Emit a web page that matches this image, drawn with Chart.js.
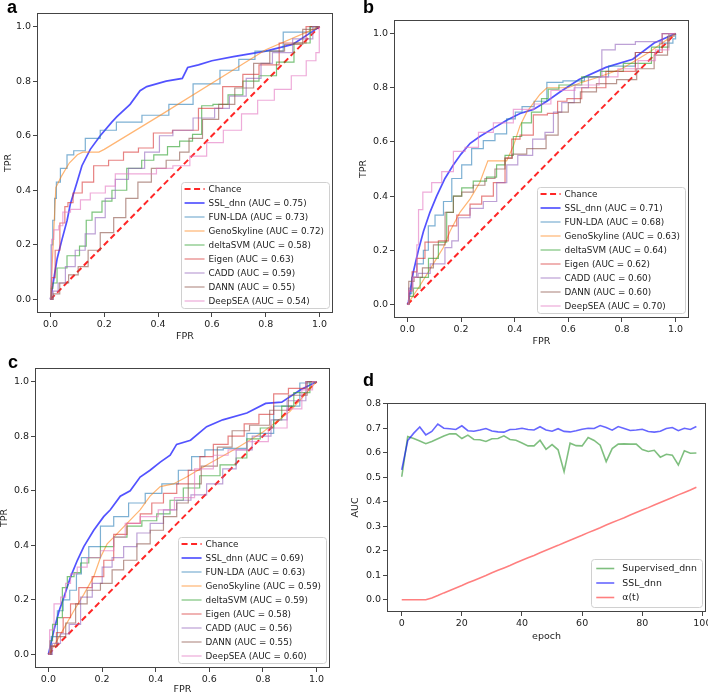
<!DOCTYPE html>
<html><head><meta charset="utf-8">
<script src="https://cdn.jsdelivr.net/npm/chart.js@4.4.1/dist/chart.umd.min.js"></script>
<style>
html,body{margin:0;padding:0;background:#fff;}
body{width:708px;height:695px;position:relative;overflow:hidden;}
canvas{position:absolute;}
</style></head><body>
<canvas id="cA" width="354" height="345" style="left:0px;top:0px"></canvas>
<canvas id="cB" width="354" height="348" style="left:354px;top:0px"></canvas>
<canvas id="cC" width="354" height="350" style="left:0px;top:345px"></canvas>
<canvas id="cD" width="368" height="350" style="left:340px;top:345px"></canvas>
<script>
// ---------- tick labels ----------
const rocTicks = [0, 0.2, 0.4, 0.6, 0.8, 1.0];
const epochTicks = [0, 20, 40, 60, 80, 100];
const aucTicks = [0, 0.1, 0.2, 0.3, 0.4, 0.5, 0.6, 0.7, 0.8];

// ---------- categories ----------
const methods = ['SSL_dnn', 'FUN-LDA', 'GenoSkyline', 'deltaSVM', 'Eigen', 'CADD', 'DANN', 'DeepSEA'];
const aucA = [0.75, 0.73, 0.72, 0.58, 0.63, 0.59, 0.55, 0.54];
const aucB = [0.71, 0.68, 0.63, 0.64, 0.62, 0.60, 0.60, 0.70];
const aucC = [0.69, 0.63, 0.59, 0.59, 0.58, 0.56, 0.55, 0.60];
const chanceLine = [[0, 0], [1, 1]];

// ---------- panel a ROC curves [FPR, TPR] ----------
const a_SSL = [[0,0],[0.01,0.06],[0.025,0.15],[0.043,0.22],[0.062,0.29],[0.074,0.35],[0.099,0.43],[0.117,0.49],[0.148,0.55],[0.185,0.60],[0.228,0.65],[0.247,0.67],[0.296,0.715],[0.333,0.765],[0.358,0.78],[0.43,0.80],[0.49,0.81],[0.51,0.85],[0.55,0.86],[0.6,0.875],[0.68,0.89],[0.8,0.91],[0.9,0.935],[0.97,0.98],[1,1]];
const a_FUN = [[0,0],[0.005,0.2],[0.012,0.29],[0.019,0.37],[0.025,0.43],[0.049,0.48],[0.074,0.53],[0.099,0.545],[0.16,0.59],[0.21,0.62],[0.28,0.65],[0.4,0.675],[0.48,0.715],[0.58,0.79],[0.68,0.84],[0.72,0.88],[0.8,0.91],[0.93,0.98],[1,1]];
const a_Geno = [[0,0],[0.01,0.2],[0.02,0.41],[0.04,0.45],[0.07,0.5],[0.1,0.53],[0.12,0.54],[0.18,0.54],[0.2,0.55],[0.4,0.67],[0.8,0.915],[1,1]];
const a_delta = [[0,0],[0.005,0.04],[0.012,0.06],[0.037,0.115],[0.086,0.16],[0.13,0.195],[0.136,0.29],[0.173,0.32],[0.21,0.36],[0.247,0.40],[0.32,0.48],[0.358,0.51],[0.41,0.53],[0.46,0.56],[0.5,0.58],[0.556,0.605],[0.568,0.71],[0.64,0.715],[0.68,0.75],[0.75,0.8],[0.8,0.82],[0.88,0.87],[0.93,0.94],[1,1]];
const a_Eigen = [[0,0],[0.01,0.08],[0.025,0.18],[0.045,0.28],[0.062,0.34],[0.068,0.355],[0.1,0.39],[0.136,0.43],[0.185,0.49],[0.247,0.51],[0.296,0.54],[0.358,0.555],[0.407,0.61],[0.5,0.62],[0.6,0.7],[0.68,0.78],[0.75,0.825],[0.8,0.86],[0.9,0.94],[1,1]];
const a_CADD = [[0,0],[0.02,0.03],[0.037,0.06],[0.074,0.12],[0.11,0.18],[0.148,0.24],[0.185,0.3],[0.222,0.37],[0.26,0.44],[0.32,0.48],[0.38,0.54],[0.43,0.6],[0.48,0.62],[0.58,0.665],[0.64,0.7],[0.69,0.745],[0.765,0.81],[0.8,0.865],[0.85,0.905],[0.95,0.955],[1,1]];
const a_DANN = [[0,0],[0.02,0.02],[0.049,0.06],[0.086,0.09],[0.12,0.12],[0.16,0.18],[0.21,0.245],[0.26,0.3],[0.3,0.37],[0.35,0.43],[0.4,0.48],[0.46,0.51],[0.5,0.54],[0.53,0.59],[0.6,0.66],[0.65,0.715],[0.72,0.775],[0.79,0.865],[0.84,0.91],[0.9,0.935],[0.975,0.99],[1,1]];
const a_Deep = [[0,0],[0.003,0.05],[0.006,0.22],[0.019,0.255],[0.043,0.27],[0.049,0.32],[0.1,0.33],[0.123,0.365],[0.173,0.39],[0.235,0.415],[0.247,0.46],[0.358,0.46],[0.43,0.48],[0.48,0.49],[0.556,0.525],[0.605,0.575],[0.68,0.62],[0.74,0.68],[0.8,0.73],[0.864,0.77],[0.926,0.82],[0.975,0.875],[0.998,0.905],[1,1]];

// ---------- panel b ROC curves ----------
const b_SSL = [[0,0],[0.004,0.01],[0.022,0.12],[0.041,0.2],[0.06,0.27],[0.084,0.34],[0.109,0.4],[0.14,0.465],[0.171,0.515],[0.2,0.555],[0.234,0.595],[0.27,0.62],[0.32,0.65],[0.37,0.68],[0.42,0.705],[0.47,0.72],[0.52,0.75],[0.57,0.785],[0.64,0.83],[0.74,0.875],[0.84,0.905],[0.92,0.965],[1,1]];
const b_FUN = [[0,0],[0.01,0.04],[0.022,0.1],[0.047,0.15],[0.072,0.2],[0.084,0.29],[0.122,0.33],[0.147,0.38],[0.184,0.465],[0.221,0.515],[0.258,0.575],[0.308,0.605],[0.345,0.63],[0.395,0.685],[0.41,0.71],[0.445,0.73],[0.5,0.75],[0.54,0.82],[0.62,0.825],[0.7,0.84],[0.8,0.88],[0.9,0.93],[0.98,0.965],[1,0.98],[1,1]];
const b_Geno = [[0,0],[0.047,0.07],[0.109,0.17],[0.134,0.21],[0.159,0.27],[0.196,0.34],[0.234,0.39],[0.27,0.45],[0.3,0.53],[0.37,0.53],[0.395,0.585],[0.42,0.66],[0.445,0.71],[0.494,0.775],[0.52,0.8],[0.6,0.8],[0.65,0.82],[0.7,0.835],[0.8,0.87],[0.9,0.93],[1,1]];
const b_delta = [[0,0],[0.01,0.03],[0.035,0.06],[0.06,0.1],[0.097,0.17],[0.134,0.23],[0.159,0.34],[0.184,0.4],[0.221,0.43],[0.27,0.455],[0.32,0.47],[0.345,0.515],[0.383,0.55],[0.407,0.62],[0.445,0.67],[0.48,0.71],[0.52,0.76],[0.53,0.795],[0.6,0.81],[0.7,0.84],[0.74,0.86],[0.87,0.89],[0.95,0.95],[1,1]];
const b_Eigen = [[0,0],[0.01,0.05],[0.025,0.12],[0.047,0.17],[0.084,0.23],[0.147,0.235],[0.159,0.29],[0.209,0.33],[0.258,0.37],[0.296,0.4],[0.345,0.45],[0.383,0.54],[0.395,0.61],[0.445,0.625],[0.494,0.7],[0.55,0.705],[0.57,0.75],[0.62,0.76],[0.68,0.8],[0.8,0.86],[0.9,0.93],[1,1]];
const b_CADD = [[0,0],[0.01,0.06],[0.03,0.1],[0.05,0.115],[0.12,0.15],[0.16,0.21],[0.171,0.235],[0.209,0.32],[0.258,0.355],[0.308,0.38],[0.358,0.45],[0.383,0.515],[0.44,0.55],[0.494,0.61],[0.532,0.635],[0.557,0.71],[0.594,0.745],[0.65,0.8],[0.7,0.84],[0.75,0.94],[0.8,0.96],[0.9,0.97],[1,1]];
const b_DANN = [[0,0],[0.01,0.085],[0.04,0.1],[0.072,0.135],[0.122,0.22],[0.159,0.34],[0.184,0.4],[0.221,0.415],[0.27,0.44],[0.308,0.465],[0.345,0.5],[0.383,0.54],[0.4,0.555],[0.49,0.575],[0.544,0.625],[0.58,0.71],[0.62,0.745],[0.67,0.785],[0.74,0.815],[0.82,0.83],[0.89,0.87],[0.95,0.92],[0.99,0.99],[1,1]];
const b_Deep = [[0,0],[0.01,0.05],[0.03,0.1],[0.04,0.22],[0.043,0.35],[0.072,0.415],[0.109,0.45],[0.147,0.49],[0.196,0.565],[0.234,0.58],[0.296,0.635],[0.345,0.67],[0.445,0.72],[0.5,0.74],[0.57,0.79],[0.68,0.81],[0.75,0.84],[0.82,0.87],[0.9,0.9],[0.95,0.94],[1,1]];

// ---------- panel c ROC curves ----------
const c_SSL = [[0,0],[0.021,0.09],[0.04,0.16],[0.058,0.21],[0.083,0.285],[0.108,0.345],[0.132,0.395],[0.169,0.455],[0.206,0.505],[0.231,0.53],[0.268,0.58],[0.305,0.6],[0.342,0.65],[0.379,0.675],[0.417,0.705],[0.454,0.73],[0.478,0.77],[0.53,0.785],[0.59,0.835],[0.65,0.86],[0.74,0.885],[0.81,0.92],[0.87,0.925],[0.94,0.97],[1,1]];
const c_FUN = [[0,0],[0.021,0.065],[0.046,0.16],[0.064,0.2],[0.095,0.235],[0.114,0.295],[0.132,0.355],[0.169,0.395],[0.219,0.47],[0.268,0.505],[0.33,0.555],[0.392,0.59],[0.454,0.625],[0.515,0.675],[0.553,0.725],[0.614,0.75],[0.69,0.755],[0.79,0.81],[0.89,0.91],[0.985,0.995],[1,1]];
const c_Geno = [[0,0],[0.02,0.03],[0.046,0.075],[0.095,0.16],[0.132,0.22],[0.169,0.285],[0.194,0.355],[0.219,0.405],[0.244,0.43],[0.293,0.48],[0.342,0.53],[0.379,0.58],[0.417,0.615],[0.466,0.625],[0.515,0.65],[0.6,0.7],[0.7,0.755],[0.8,0.815],[0.9,0.89],[1,1]];
const c_delta = [[0,0],[0.01,0.05],[0.021,0.11],[0.046,0.135],[0.058,0.245],[0.083,0.285],[0.108,0.3],[0.132,0.335],[0.169,0.355],[0.219,0.395],[0.268,0.43],[0.318,0.47],[0.379,0.49],[0.429,0.515],[0.478,0.565],[0.528,0.61],[0.6,0.655],[0.68,0.695],[0.72,0.72],[0.76,0.79],[0.82,0.83],[0.86,0.86],[0.88,0.91],[0.95,0.96],[1,1]];
const c_Eigen = [[0,0],[0.02,0.03],[0.04,0.08],[0.07,0.135],[0.095,0.185],[0.132,0.245],[0.194,0.285],[0.219,0.345],[0.268,0.44],[0.318,0.48],[0.367,0.515],[0.404,0.555],[0.454,0.59],[0.503,0.625],[0.54,0.675],[0.59,0.725],[0.64,0.77],[0.7,0.8],[0.76,0.845],[0.81,0.88],[0.87,0.955],[0.92,0.975],[1,1]];
const c_CADD = [[0,0],[0.03,0.04],[0.06,0.075],[0.095,0.11],[0.145,0.21],[0.182,0.26],[0.219,0.32],[0.256,0.355],[0.305,0.395],[0.355,0.445],[0.404,0.48],[0.454,0.53],[0.503,0.565],[0.56,0.585],[0.62,0.625],[0.68,0.68],[0.72,0.75],[0.8,0.8],[0.86,0.86],[0.92,0.93],[1,1]];
const c_DANN = [[0,0],[0.02,0.03],[0.046,0.065],[0.083,0.115],[0.12,0.185],[0.169,0.235],[0.219,0.26],[0.256,0.31],[0.305,0.345],[0.355,0.405],[0.404,0.455],[0.454,0.505],[0.503,0.555],[0.54,0.625],[0.6,0.69],[0.66,0.76],[0.71,0.82],[0.79,0.84],[0.86,0.895],[0.93,0.95],[1,1]];
const c_Deep = [[0,0],[0.009,0.09],[0.033,0.185],[0.058,0.21],[0.07,0.26],[0.095,0.295],[0.12,0.32],[0.169,0.355],[0.219,0.38],[0.268,0.43],[0.305,0.48],[0.379,0.505],[0.44,0.53],[0.5,0.575],[0.59,0.68],[0.64,0.73],[0.7,0.75],[0.78,0.78],[0.86,0.83],[0.92,0.9],[0.97,0.97],[1,1]];

// ---------- panel d training curves ----------
const epochs = [0,2,4,6,8,10,12,14,16,18,20,22,24,26,28,30,32,34,36,38,40,42,44,46,48,50,52,54,56,58,60,62,64,66,68,70,72,74,76,78,80,82,84,86,88,90,92,94,96,98];
const supervisedAUC = [0.502,0.666,0.658,0.648,0.637,0.646,0.657,0.668,0.677,0.677,0.658,0.672,0.654,0.653,0.646,0.657,0.658,0.669,0.654,0.651,0.64,0.628,0.628,0.651,0.614,0.633,0.612,0.523,0.639,0.629,0.628,0.662,0.65,0.631,0.564,0.617,0.635,0.636,0.635,0.635,0.613,0.605,0.61,0.582,0.594,0.59,0.55,0.608,0.598,0.599];
const sslAUC = [0.53,0.65,0.68,0.705,0.673,0.687,0.717,0.70,0.698,0.695,0.71,0.69,0.688,0.693,0.699,0.689,0.685,0.684,0.695,0.696,0.70,0.695,0.693,0.706,0.693,0.688,0.698,0.687,0.685,0.69,0.696,0.70,0.699,0.711,0.703,0.692,0.707,0.699,0.691,0.693,0.696,0.687,0.684,0.688,0.699,0.703,0.69,0.70,0.695,0.707];
const alphaT = [0,0,0,0,0,0.007,0.017,0.028,0.038,0.048,0.058,0.069,0.079,0.089,0.099,0.110,0.120,0.130,0.140,0.151,0.161,0.171,0.181,0.192,0.202,0.212,0.222,0.233,0.243,0.253,0.263,0.274,0.284,0.294,0.305,0.315,0.325,0.335,0.346,0.356,0.366,0.376,0.387,0.397,0.407,0.417,0.428,0.438,0.448,0.459];

// ---------- styles ----------
const FONT = "'DejaVu Sans', sans-serif";
const methodStyles = [
  {color: 'rgba(0,0,255,0.68)', width: 1.7, stepped: false},
  {color: 'rgba(31,119,180,0.58)', width: 1.2, stepped: 'middle'},
  {color: 'rgba(255,127,14,0.58)', width: 1.2, stepped: false},
  {color: 'rgba(44,160,44,0.62)', width: 1.2, stepped: 'middle'},
  {color: 'rgba(214,39,40,0.58)', width: 1.2, stepped: 'middle'},
  {color: 'rgba(148,103,189,0.62)', width: 1.2, stepped: 'middle'},
  {color: 'rgba(140,86,75,0.62)', width: 1.2, stepped: 'middle'},
  {color: 'rgba(227,119,194,0.62)', width: 1.2, stepped: 'middle'}
];

function toPts(arr) { return arr.map(p => ({x: p[0], y: p[1]})); }

const framePlugin = {
  id: 'frame',
  afterDraw(chart, args, o) {
    const {ctx, chartArea: ca} = chart;
    ctx.save();
    ctx.strokeStyle = '#444';
    ctx.lineWidth = 1;
    ctx.strokeRect(Math.round(ca.left) + 0.5, Math.round(ca.top) + 0.5,
                   Math.round(ca.right - ca.left) - 1, Math.round(ca.bottom - ca.top) - 1);
    if (o.letter) {
      ctx.fillStyle = '#000';
      ctx.font = "bold 18px 'Liberation Sans', Arial, sans-serif";
      ctx.textBaseline = 'alphabetic';
      ctx.textAlign = 'left';
      ctx.fillText(o.letter, o.lx, o.ly);
    }
    ctx.restore();
  }
};

const boxLegend = {
  id: 'boxLegend',
  afterDraw(chart, args, o) {
    const {ctx, chartArea: ca} = chart;
    const items = chart.data.datasets;
    ctx.save();
    ctx.font = o.fontSize + 'px ' + FONT;
    const tw = Math.max(...items.map(d => ctx.measureText(d.label).width));
    const w = o.padX + o.sample + o.gap + tw + o.padRight;
    const h = o.padY * 2 + o.rowH * items.length;
    const x = ca.right - o.insetR - w;
    const y = ca.bottom - o.insetB - h;
    ctx.beginPath();
    ctx.roundRect(Math.round(x) + 0.5, Math.round(y) + 0.5, Math.round(w), Math.round(h), 3);
    ctx.fillStyle = 'rgba(255,255,255,0.85)';
    ctx.fill();
    ctx.strokeStyle = '#d0d0d0';
    ctx.lineWidth = 1;
    ctx.stroke();
    items.forEach((d, i) => {
      const cy = y + o.padY + o.rowH * (i + 0.5);
      ctx.beginPath();
      ctx.strokeStyle = d.borderColor;
      ctx.lineWidth = d.borderWidth;
      ctx.setLineDash(d.borderDash || []);
      ctx.moveTo(x + o.padX, cy);
      ctx.lineTo(x + o.padX + o.sample, cy);
      ctx.stroke();
      ctx.setLineDash([]);
      ctx.fillStyle = '#222';
      ctx.textBaseline = 'middle';
      ctx.textAlign = 'left';
      ctx.fillText(d.label, x + o.padX + o.sample + o.gap, cy + 0.5);
    });
    ctx.restore();
  }
};

function axis(min, max, tickVals, fmt, title, titlePad, size, isX) {
  return {
    type: 'linear', min: min, max: max,
    afterBuildTicks: s => { s.ticks = tickVals.map(v => ({value: v})); },
    afterFit: s => {
      if (isX) s.height = size; else s.width = size;
      s.paddingLeft = 0; s.paddingRight = 0; s.paddingTop = 0; s.paddingBottom = 0;
    },
    grid: {display: true, drawOnChartArea: false, drawTicks: true, tickLength: 4, color: '#444', lineWidth: 1},
    border: {display: false},
    ticks: {padding: 2, color: '#222', font: {family: FONT, size: 9.5}, callback: fmt, autoSkip: false, maxRotation: 0},
    title: {display: true, text: title, color: '#222', font: {family: FONT, size: 9.5, lineHeight: 1}, padding: titlePad}
  };
}

function rocChart(id, curves, aucs, geo) {
  const datasets = [{
    label: 'Chance', data: toPts(chanceLine), borderColor: 'rgba(255,0,0,0.85)', borderWidth: 2,
    borderDash: [6, 3.5], pointRadius: 0, tension: 0, fill: false, order: 0
  }];
  curves.forEach((c, i) => {
    datasets.push({
      label: methods[i] + ' (AUC = ' + aucs[i].toFixed(2) + ')',
      data: toPts(c), borderColor: methodStyles[i].color, borderWidth: methodStyles[i].width,
      stepped: methodStyles[i].stepped,
      pointRadius: 0, tension: 0, fill: false, order: -(i + 1)
    });
  });
  new Chart(document.getElementById(id), {
    type: 'line',
    data: {datasets: datasets},
    options: {
      responsive: false, animation: false, devicePixelRatio: 1, events: [],
      layout: {padding: geo.padding},
      scales: {
        x: axis(-0.05, 1.05, rocTicks, v => v.toFixed(1), 'FPR', {top: 0, bottom: geo.xTitlePad}, geo.xH, true),
        y: axis(-0.05, 1.05, rocTicks, v => v.toFixed(1), 'TPR', {top: geo.yTitlePad, bottom: 0}, geo.yW, false)
      },
      plugins: {
        legend: {display: false}, tooltip: {enabled: false},
        frame: {letter: geo.letter, lx: geo.lx, ly: geo.ly},
        boxLegend: {fontSize: 8.8, padX: 4, sample: 20, gap: 4, padRight: 5, padY: 0, rowH: 14, insetR: 4, insetB: 5}
      }
    },
    plugins: [framePlugin, boxLegend]
  });
}

rocChart('cA', [a_SSL, a_FUN, a_Geno, a_delta, a_Eigen, a_CADD, a_DANN, a_Deep], aucA,
  {padding: {top: 13, right: 21, bottom: 0, left: 0}, yW: 37, xH: 32, xTitlePad: 4, yTitlePad: 3.5, letter: 'a', lx: 7, ly: 13});
rocChart('cB', [b_SSL, b_FUN, b_Geno, b_delta, b_Eigen, b_CADD, b_DANN, b_Deep], aucB,
  {padding: {top: 20, right: 19, bottom: 0, left: 0}, yW: 40, xH: 30, xTitlePad: 2, yTitlePad: 5, letter: 'b', lx: 9, ly: 13});
rocChart('cC', [c_SSL, c_FUN, c_Geno, c_delta, c_Eigen, c_CADD, c_DANN, c_Deep], aucC,
  {padding: {top: 23, right: 24, bottom: 0, left: 0}, yW: 35, xH: 27, xTitlePad: 1, yTitlePad: 0, letter: 'c', lx: 8, ly: 23});

// ---------- panel d ----------
function series(xs, ys) { return xs.map((x, i) => ({x: x, y: ys[i]})); }
new Chart(document.getElementById('cD'), {
  type: 'line',
  data: {datasets: [
    {label: 'Supervised_dnn', data: series(epochs, supervisedAUC), borderColor: 'rgba(0,128,0,0.5)', borderWidth: 1.6, pointRadius: 0, tension: 0, order: 0},
    {label: 'SSL_dnn', data: series(epochs, sslAUC), borderColor: 'rgba(0,0,255,0.6)', borderWidth: 1.6, pointRadius: 0, tension: 0, order: -1},
    {label: 'α(t)', data: series(epochs, alphaT), borderColor: 'rgba(255,0,0,0.5)', borderWidth: 1.6, pointRadius: 0, tension: 0, order: -2}
  ]},
  options: {
    responsive: false, animation: false, devicePixelRatio: 1, events: [],
    layout: {padding: {top: 58, right: 2, bottom: 45, left: 0}},
    scales: {
      x: axis(-4.9, 101.2, epochTicks, v => String(v), 'epoch', {top: 0, bottom: 9}, 38, true),
      y: axis(-0.05, 0.803, aucTicks, v => v.toFixed(1), 'AUC', {top: 11, bottom: 0}, 47, false)
    },
    plugins: {
      legend: {display: false}, tooltip: {enabled: false},
      frame: {letter: 'd', lx: 23, ly: 41},
      boxLegend: {fontSize: 9.4, padX: 5, sample: 18, gap: 8, padRight: 5, padY: 2.25, rowH: 14.5, insetR: 4, insetB: 5}
    }
  },
  plugins: [framePlugin, boxLegend]
});
</script>
</body></html>
